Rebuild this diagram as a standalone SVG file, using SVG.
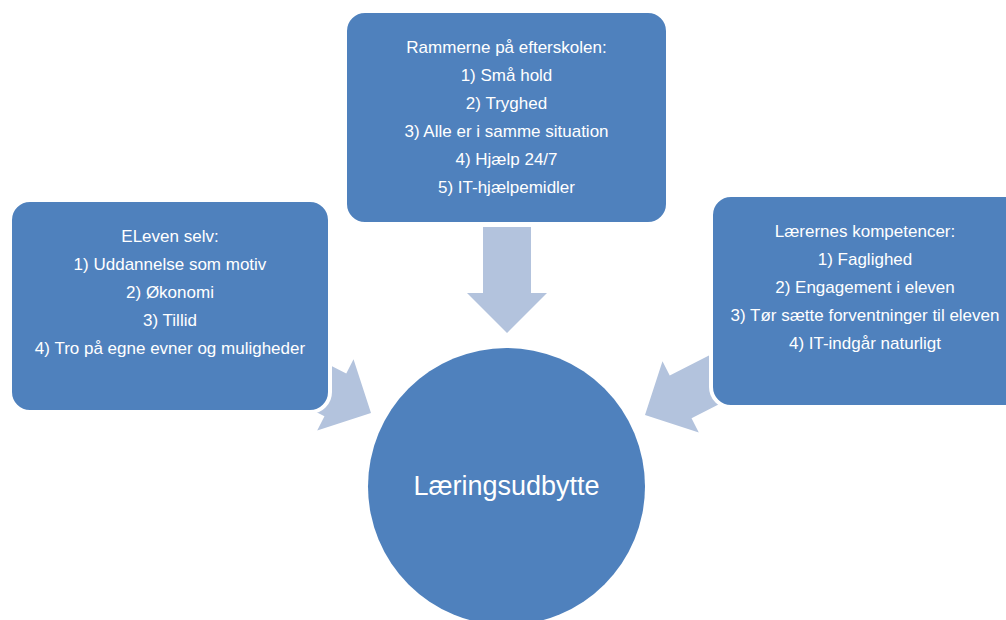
<svg xmlns="http://www.w3.org/2000/svg" width="1006" height="620" viewBox="0 0 1006 620">
  <style>
    .box { fill: #4F81BD; stroke: #FFFFFF; stroke-width: 4; }
    .arrow { fill: #B3C3DD; stroke: none; }
    .t { font-family: "Liberation Sans", Arial, sans-serif; font-size: 17px; fill: #FFFFFF; text-anchor: middle; }
    .big { font-family: "Liberation Sans", Arial, sans-serif; font-size: 27px; fill: #FFFFFF; text-anchor: middle; }
  </style>
  <defs>
    <polygon id="arr" points="-106,-24 -40,-24 -40,-40 0,0 -40,40 -40,24 -106,24"/>
  </defs>
  <rect width="1006" height="620" fill="#FFFFFF"/>
  <g id="connectors">
    <use href="#arr" class="arrow" transform="translate(507,333) rotate(90)"/>
    <use href="#arr" class="arrow" transform="translate(371,413) rotate(27)"/>
    <use href="#arr" class="arrow" transform="translate(645,415) rotate(153)"/>
  </g>
  <g id="node-top">
    <rect class="box" x="345" y="11" width="323" height="213" rx="20"/>
    <text class="t" x="506.5" y="52.5">Rammerne på efterskolen:</text>
    <text class="t" x="506.5" y="80.5">1) Små hold</text>
    <text class="t" x="506.5" y="108.5">2) Tryghed</text>
    <text class="t" x="506.5" y="136.5">3) Alle er i samme situation</text>
    <text class="t" x="506.5" y="164.5">4) Hjælp 24/7</text>
    <text class="t" x="506.5" y="192.5">5) IT-hjælpemidler</text>
  </g>
  <g id="node-left">
    <rect class="box" x="10" y="200" width="320" height="212" rx="20"/>
    <text class="t" x="170" y="242">ELeven selv:</text>
    <text class="t" x="170" y="270">1) Uddannelse som motiv</text>
    <text class="t" x="170" y="298">2) Økonomi</text>
    <text class="t" x="170" y="326">3) Tillid</text>
    <text class="t" x="170" y="354">4) Tro på egne evner og muligheder</text>
  </g>
  <g id="node-right">
    <rect class="box" x="711" y="195" width="320" height="212" rx="20"/>
    <text class="t" x="865" y="237">Lærernes kompetencer:</text>
    <text class="t" x="865" y="265">1) Faglighed</text>
    <text class="t" x="865" y="293">2) Engagement i eleven</text>
    <text class="t" x="865" y="321">3) Tør sætte forventninger til eleven</text>
    <text class="t" x="865" y="349">4) IT-indgår naturligt</text>
  </g>
  <g id="node-center">
    <circle cx="506.5" cy="486.5" r="138.5" fill="#4F81BD"/>
    <text class="big" x="506.5" y="495">Læringsudbytte</text>
  </g>
</svg>
